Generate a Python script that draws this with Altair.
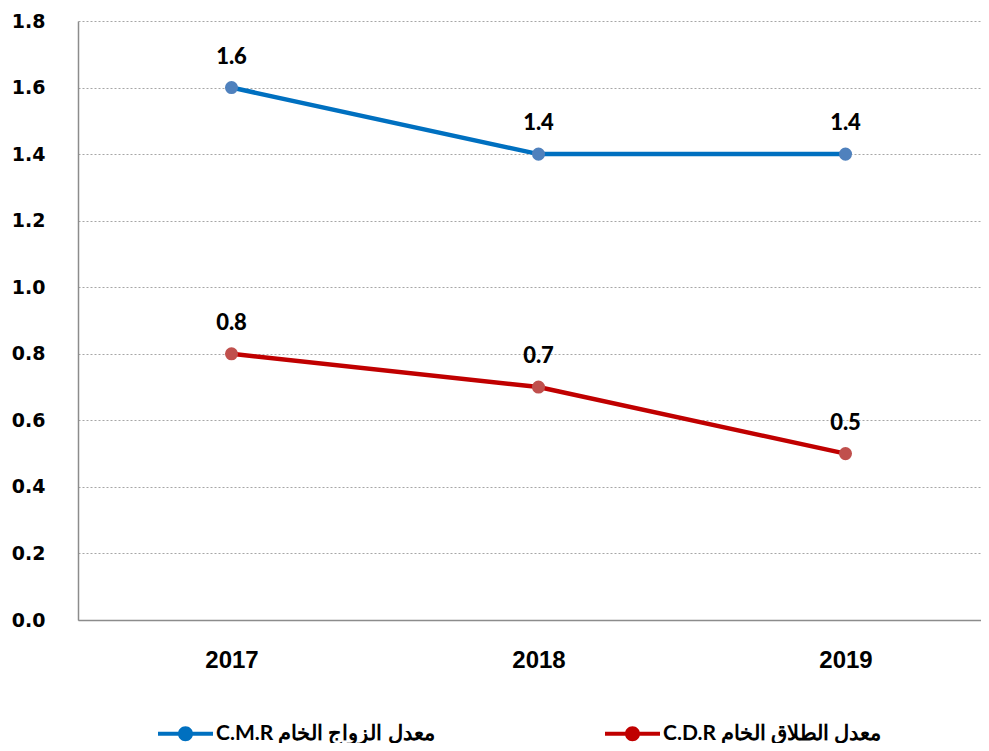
import altair as alt
import pandas as pd

years = [2017, 2018, 2019]
cmr_values = [1.6, 1.4, 1.4]
cdr_values = [0.8, 0.7, 0.5]
cmr_label = "C.M.R معدل الزواج الخام"
cdr_label = "C.D.R  معدل الطلاق الخام"
series_names = [cmr_label, cdr_label]
line_colors = ["#0070C0", "#C00000"]
point_colors = ["#4F81BD", "#C0504D"]
y_ticks = [0.0, 0.2, 0.4, 0.6, 0.8, 1.0, 1.2, 1.4, 1.6, 1.8]

rows = []
for name, vals, pc in [(cmr_label, cmr_values, point_colors[0]), (cdr_label, cdr_values, point_colors[1])]:
    for yr, v in zip(years, vals):
        rows.append({"year": yr, "value": v, "series": name, "pcolor": pc})
df = pd.DataFrame(rows)

W = 903
H = 599
step = 307.0
x_scale = alt.Scale(domain=[2016.5, 2016.5 + W / step], nice=False, zero=False)
y_scale = alt.Scale(domain=[0, 1.8], nice=False)

sym_path = ("M-1,-0.073H1V0.073H-1Z "
            "M-0.273,0A0.273,0.273,0,1,1,0.273,0A0.273,0.273,0,1,1,-0.273,0Z")

legend_kw = dict(
    title=None, orient="none", direction="horizontal",
    legendX=80, legendY=685, padding=0,
    symbolType=sym_path, symbolSize=3025,
    symbolStrokeWidth=0, symbolOpacity=1, labelOffset=3,
    columnPadding=170, labelLimit=0,
    labelFont="Lato", labelFontWeight="bold",
    labelFontSize=21, labelColor="#000000",
)

x_enc = alt.X("year:Q", scale=x_scale,
              axis=alt.Axis(values=years, format="d", title=None, grid=False,
                            ticks=False, tickSize=0, labelPadding=28,
                            labelFont="Liberation Sans", labelFontWeight="bold",
                            labelFontSize=24, labelColor="#000000",
                            domainColor="#8C8C8C", domainWidth=1.5))
y_enc = alt.Y("value:Q", scale=y_scale,
              axis=alt.Axis(values=y_ticks, format=".1f", title=None,
                            grid=True, gridDash=[2, 2], gridColor="#A6A6A6",
                            gridWidth=1, ticks=False, tickSize=0,
                            labelPadding=33, labelFont="DejaVu Sans",
                            labelFontWeight="bold", labelFontSize=19,
                            labelColor="#000000", domainColor="#8C8C8C",
                            domainWidth=1.5))

lines = alt.Chart(df).mark_line(strokeWidth=4.5).encode(
    x=x_enc, y=y_enc,
    color=alt.Color("series:N",
                    scale=alt.Scale(domain=series_names, range=line_colors),
                    legend=alt.Legend(**legend_kw)),
    detail="series:N",
)

legend_layer = alt.Chart(df).mark_point(filled=True, size=0, opacity=1).encode(
    x="year:Q", y="value:Q",
    fill=alt.Fill("series:N",
                  scale=alt.Scale(domain=series_names, range=line_colors),
                  legend=alt.Legend(**legend_kw)),
)

points = alt.Chart(df).mark_point(filled=True, size=170, opacity=1).encode(
    x="year:Q", y="value:Q",
    color=alt.Color("pcolor:N", scale=None),
)

labels = alt.Chart(df).mark_text(
    dy=-31, font="Lato", fontWeight=900, fontSize=22, color="#000000",
    baseline="middle", align="center"
).encode(
    x="year:Q", y="value:Q",
    text=alt.Text("value:Q", format=".1f"),
)

chart = alt.layer(lines, legend_layer, points, labels).properties(
    width=W, height=H,
    autosize=alt.AutoSizeParams(type="none"),
    padding={"left": 70, "top": 13, "right": 0, "bottom": 123},
    background="#ffffff",
).configure_view(stroke=None)

chart.save("out.html", embed_options={"renderer": "svg", "actions": False})
